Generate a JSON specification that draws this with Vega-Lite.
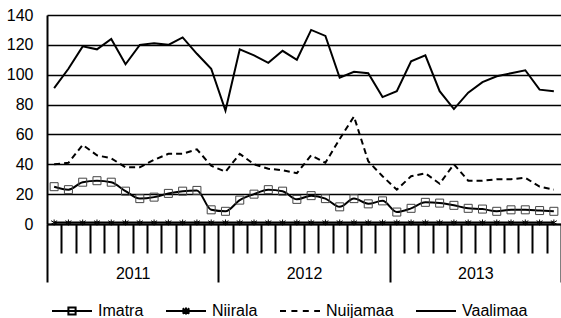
{
  "$schema": "https://vega.github.io/schema/vega-lite/v6.json",
  "width": 514,
  "height": 209,
  "autosize": {"type": "none"},
  "padding": {"left": 47, "top": 15, "right": 0, "bottom": 94},
  "background": "white",
  "config": {
    "view": {"stroke": null},
    "font": "Liberation Sans",
    "axis": {"labelFont": "Liberation Sans", "labelColor": "black", "labelFontSize": 16},
    "legend": {"labelFont": "Liberation Sans", "labelColor": "black", "labelFontSize": 16}
  },
  "data": {
    "values": [
      {"t": 0.5, "Imatra": 25, "Niirala": 1, "Nuijamaa": 40, "Vaalimaa": 91},
      {"t": 1.5, "Imatra": 23, "Niirala": 1, "Nuijamaa": 41, "Vaalimaa": 104},
      {"t": 2.5, "Imatra": 28, "Niirala": 1, "Nuijamaa": 53, "Vaalimaa": 119},
      {"t": 3.5, "Imatra": 29, "Niirala": 1, "Nuijamaa": 46, "Vaalimaa": 117},
      {"t": 4.5, "Imatra": 28, "Niirala": 1, "Nuijamaa": 44, "Vaalimaa": 124},
      {"t": 5.5, "Imatra": 22, "Niirala": 1, "Nuijamaa": 38, "Vaalimaa": 107},
      {"t": 6.5, "Imatra": 17, "Niirala": 1, "Nuijamaa": 38, "Vaalimaa": 120},
      {"t": 7.5, "Imatra": 18, "Niirala": 1, "Nuijamaa": 43, "Vaalimaa": 121},
      {"t": 8.5, "Imatra": 20.5, "Niirala": 1, "Nuijamaa": 47, "Vaalimaa": 120},
      {"t": 9.5, "Imatra": 22, "Niirala": 1, "Nuijamaa": 47, "Vaalimaa": 125},
      {"t": 10.5, "Imatra": 22.5, "Niirala": 1, "Nuijamaa": 50, "Vaalimaa": 114},
      {"t": 11.5, "Imatra": 9.5, "Niirala": 1, "Nuijamaa": 39, "Vaalimaa": 104},
      {"t": 12.5, "Imatra": 8.5, "Niirala": 1, "Nuijamaa": 35, "Vaalimaa": 76},
      {"t": 13.5, "Imatra": 16, "Niirala": 1, "Nuijamaa": 47, "Vaalimaa": 117},
      {"t": 14.5, "Imatra": 20, "Niirala": 1, "Nuijamaa": 40, "Vaalimaa": 113},
      {"t": 15.5, "Imatra": 23, "Niirala": 1, "Nuijamaa": 37, "Vaalimaa": 108},
      {"t": 16.5, "Imatra": 22, "Niirala": 1, "Nuijamaa": 36, "Vaalimaa": 116},
      {"t": 17.5, "Imatra": 16.5, "Niirala": 1, "Nuijamaa": 34, "Vaalimaa": 110},
      {"t": 18.5, "Imatra": 19, "Niirala": 1, "Nuijamaa": 46, "Vaalimaa": 130},
      {"t": 19.5, "Imatra": 17, "Niirala": 1, "Nuijamaa": 41, "Vaalimaa": 126},
      {"t": 20.5, "Imatra": 11.5, "Niirala": 1, "Nuijamaa": 57, "Vaalimaa": 98},
      {"t": 21.5, "Imatra": 17, "Niirala": 1, "Nuijamaa": 72, "Vaalimaa": 102},
      {"t": 22.5, "Imatra": 13.5, "Niirala": 1, "Nuijamaa": 42, "Vaalimaa": 101},
      {"t": 23.5, "Imatra": 15.5, "Niirala": 1, "Nuijamaa": 32, "Vaalimaa": 85},
      {"t": 24.5, "Imatra": 8, "Niirala": 1, "Nuijamaa": 23, "Vaalimaa": 89},
      {"t": 25.5, "Imatra": 10.5, "Niirala": 1, "Nuijamaa": 32, "Vaalimaa": 109},
      {"t": 26.5, "Imatra": 14.5, "Niirala": 1, "Nuijamaa": 34, "Vaalimaa": 113},
      {"t": 27.5, "Imatra": 14, "Niirala": 1, "Nuijamaa": 27, "Vaalimaa": 89},
      {"t": 28.5, "Imatra": 12.5, "Niirala": 1, "Nuijamaa": 40, "Vaalimaa": 77},
      {"t": 29.5, "Imatra": 10.5, "Niirala": 1, "Nuijamaa": 29, "Vaalimaa": 88},
      {"t": 30.5, "Imatra": 10, "Niirala": 1, "Nuijamaa": 29, "Vaalimaa": 95},
      {"t": 31.5, "Imatra": 8.5, "Niirala": 1, "Nuijamaa": 30, "Vaalimaa": 99},
      {"t": 32.5, "Imatra": 9.5, "Niirala": 1, "Nuijamaa": 30, "Vaalimaa": 101},
      {"t": 33.5, "Imatra": 9.5, "Niirala": 1, "Nuijamaa": 31, "Vaalimaa": 103},
      {"t": 34.5, "Imatra": 9, "Niirala": 1, "Nuijamaa": 25, "Vaalimaa": 90},
      {"t": 35.5, "Imatra": 8.5, "Niirala": 1, "Nuijamaa": 23, "Vaalimaa": 89}
    ]
  },
  "encoding": {
    "x": {
      "field": "t", "type": "quantitative",
      "scale": {"domain": [0, 36], "nice": false, "zero": false},
      "axis": {
        "title": null,
        "values": [0,1,2,3,4,5,6,7,8,9,10,11,12,13,14,15,16,17,18,19,20,21,22,23,24,25,26,27,28,29,30,31,32,33,34,35,36],
        "tickSize": {"condition": {"test": "datum.value % 12 === 0", "value": 58}, "value": 29},
        "tickWidth": 2, "tickColor": "black",
        "domainColor": "black", "domainWidth": 2,
        "labelExpr": "datum.value === 6 ? '2011' : datum.value === 18 ? '2012' : datum.value === 30 ? '2013' : ''",
        "labelPadding": 12, "labelOverlap": false, "labelFlush": false, "labelBound": false,
        "grid": false, "zindex": 2
      }
    },
    "y": {
      "type": "quantitative",
      "scale": {"domain": [0, 140], "nice": false},
      "axis": {
        "title": null, "values": [0,20,40,60,80,100,120,140],
        "grid": true, "gridColor": "black", "gridWidth": 1.5, "gridOpacity": 1,
        "ticks": false, "domainColor": "black", "domainWidth": 2,
        "labelPadding": 14
      }
    }
  },
  "layer": [
    {
      "mark": {"type": "line", "color": "black", "strokeWidth": 2},
      "encoding": {"y": {"field": "Vaalimaa", "type": "quantitative"}}
    },
    {
      "mark": {"type": "line", "color": "black", "strokeWidth": 2, "strokeDash": [6, 4]},
      "encoding": {"y": {"field": "Nuijamaa", "type": "quantitative"}}
    },
    {
      "mark": {"type": "line", "color": "black", "strokeWidth": 2, "interpolate": "monotone"},
      "encoding": {"y": {"field": "Imatra", "type": "quantitative"}}
    },
    {
      "mark": {"type": "point", "shape": "square", "filled": false, "color": "#444444", "strokeWidth": 1, "size": 64, "opacity": 1},
      "encoding": {"y": {"field": "Imatra", "type": "quantitative"}}
    },
    {
      "mark": {"type": "line", "color": "black", "strokeWidth": 2},
      "encoding": {"y": {"field": "Niirala", "type": "quantitative"}}
    },
    {
      "mark": {"type": "point", "shape": "M-1,-0.6L1,0.6M-1,0.6L1,-0.6M0,-1V1", "filled": false, "color": "black", "strokeWidth": 1, "size": 36, "opacity": 1},
      "encoding": {"y": {"field": "Niirala", "type": "quantitative"}}
    },
    {
      "transform": [{"fold": ["Imatra", "Niirala", "Nuijamaa", "Vaalimaa"], "as": ["series", "val"]}],
      "mark": {"type": "point", "filled": false, "color": "black", "opacity": 0, "strokeWidth": 2},
      "encoding": {
        "y": {"field": "val", "type": "quantitative"},
        "shape": {
          "field": "series", "type": "nominal",
          "scale": {
            "domain": ["Imatra", "Niirala", "Nuijamaa", "Vaalimaa"],
            "range": [
              "M-1,0H1M-0.18,-0.18H0.18V0.18H-0.18Z",
              "M-1,0H1M-0.17,-0.13L0.17,0.13M-0.17,0.13L0.17,-0.13M0,-0.17V0.17",
              "M-1,0H-0.7M-0.43,0H-0.13M0.14,0H0.44M0.71,0H1",
              "M-1,0H1"
            ]
          },
          "legend": {
            "title": null, "orient": "none", "direction": "horizontal",
            "legendX": 4, "legendY": 275,
            "symbolSize": 1600, "symbolOpacity": 1, "symbolStrokeWidth": 2,
            "symbolStrokeColor": "black", "symbolFillColor": "transparent",
            "labelOffset": 5, "columnPadding": 18, "labelFontSize": 16
          }
        }
      }
    }
  ],
  "resolve": {"scale": {"shape": "independent"}}
}
